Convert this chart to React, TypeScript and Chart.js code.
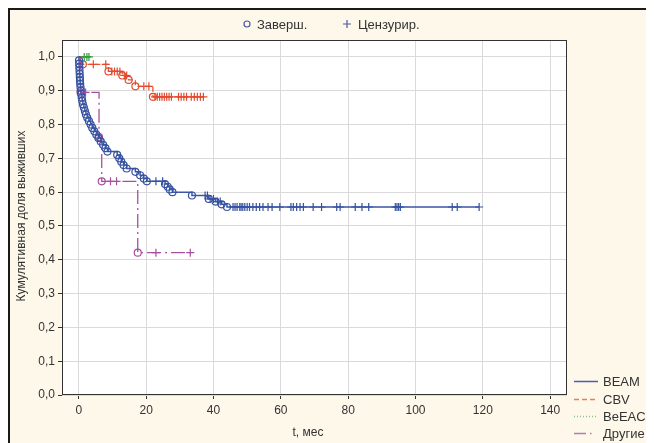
import React, { useEffect, useRef } from 'react';
import { Chart, registerables } from 'chart.js';
Chart.register(...registerables);

// ---- axes ----
const xTicks = [0, 20, 40, 60, 80, 100, 120, 140];
const yTicks = [0, 0.1, 0.2, 0.3, 0.4, 0.5, 0.6, 0.7, 0.8, 0.9, 1.0];
const xMin = -5;
const xMax = 145;
const yMin = 0;
const yMax = 1.05;

// ---- BEAM (event times / survival after event) ----
const beamT = [0, 0.05, 0.1, 0.15, 0.2, 0.25, 0.3, 0.35, 0.4, 0.5, 0.6, 0.7, 0.85, 1.0, 1.2, 1.5, 1.8, 2.1, 2.5, 3.0, 3.5, 4.0, 4.6, 5.2, 5.8, 6.5, 7.2, 7.9, 8.5, 11.4, 12.0, 12.6, 13.3, 14.2, 16.8, 18.2, 19.3, 20.2, 25.6, 26.4, 27.0, 27.8, 33.6, 38.6, 40.6, 42.4, 44.0];
const beamS = [1.0, 0.99, 0.98, 0.97, 0.96, 0.95, 0.94, 0.93, 0.92, 0.91, 0.90, 0.89, 0.88, 0.87, 0.86, 0.85, 0.84, 0.83, 0.82, 0.81, 0.80, 0.79, 0.78, 0.77, 0.76, 0.75, 0.74, 0.73, 0.72, 0.71, 0.70, 0.69, 0.68, 0.67, 0.66, 0.65, 0.64, 0.632, 0.624, 0.616, 0.608, 0.60, 0.59, 0.58, 0.572, 0.564, 0.556];
const beamCens = [22.9, 24.9, 37.5, 38.2, 39.0, 40.0, 41.2, 42.0, 45.8, 46.4, 47.0, 47.8, 48.2, 48.7, 49.3, 50.0, 50.7, 51.7, 52.7, 53.7, 54.7, 56.2, 57.4, 59.7, 63.0, 63.7, 64.7, 65.7, 66.7, 69.6, 72.1, 76.6, 77.6, 82.1, 84.1, 86.1, 94.0, 94.5, 95.0, 95.5, 110.9, 112.4, 118.9];

// ---- CBV ----
const cbvT = [0, 1.2, 8.8, 12.9, 14.8, 16.8, 22.0];
const cbvS = [1.0, 0.978, 0.957, 0.945, 0.932, 0.913, 0.882];
const cbvCens = [4.3, 8.0, 9.8, 10.6, 11.4, 12.2, 13.5, 14.2, 19.3, 20.8, 22.6, 23.3, 24.0, 24.7, 25.4, 26.1, 26.8, 27.5, 29.6, 30.4, 31.2, 32.0, 33.4, 34.3, 35.2, 36.1, 37.0];

// ---- BeEAC ----
const beeacT = [0];
const beeacS = [1.0];
const beeacCens = [1.6, 2.4, 3.0];

// ---- Другие ----
const otherT = [0, 0.5, 6.0, 6.8, 17.5];
const otherS = [1.0, 0.895, 0.763, 0.632, 0.421];
const otherCens = [2.0, 9.4, 11.2, 22.9, 33.1];

const groupNames = ['BEAM', 'CBV', 'BeEAC', 'Другие'];
const legendTop = ['Заверш.', 'Цензурир.'];
const xTitle = 't, мес';
const yTitle = 'Кумулятивная доля выживших';

const FONT = '"Liberation Sans", Arial, sans-serif';
const TEXT = '#333333';

function survAt(ts: number[], ss: number[], t: number) {
  let s = ss[0];
  for (let i = 0; i < ts.length; i++) if (ts[i] <= t) s = ss[i];
  return s;
}

const groups = [
  { name: groupNames[0], t: beamT, s: beamS, c: beamCens, line: '#3d56a6', mark: '#3552a2', dash: [] as number[], lw: 1.5, legendLine: '#4a5fb0' },
  { name: groupNames[1], t: cbvT, s: cbvS, c: cbvCens, line: '#e8553a', mark: '#e24a2e', dash: [5, 3], lw: 1.3, legendLine: '#f07a5e' },
  { name: groupNames[2], t: beeacT, s: beeacS, c: beeacCens, line: '#2f9a3a', mark: '#2f9a3a', dash: [1, 2], lw: 1.3, legendLine: '#8dc08d' },
  { name: groupNames[3], t: otherT, s: otherS, c: otherCens, line: '#a6509e', mark: '#a6509e', dash: [14, 4, 2, 4], lw: 1.3, legendLine: '#b77ab2' },
];

const decor = {
  id: 'decor',
  beforeDraw(chart: any) {
    const { ctx, chartArea: a } = chart;
    ctx.save();
    ctx.fillStyle = '#ffffff';
    ctx.fillRect(a.left, a.top, a.right - a.left, a.bottom - a.top);
    ctx.restore();
  },
  afterDraw(chart: any) {
    const { ctx, chartArea: a } = chart;
    ctx.save();
    // frame
    ctx.strokeStyle = '#333';
    ctx.lineWidth = 1;
    ctx.setLineDash([]);
    ctx.strokeRect(Math.round(a.left) + 0.5, Math.round(a.top) + 0.5, Math.round(a.right - a.left) - 1, Math.round(a.bottom - a.top) - 1);

    ctx.fillStyle = TEXT;
    ctx.font = `12px ${FONT}`;
    // x title
    ctx.textAlign = 'center';
    ctx.textBaseline = 'middle';
    ctx.fillText(xTitle, 298, 423);
    // y title
    ctx.save();
    ctx.translate(12, 206);
    ctx.rotate(-Math.PI / 2);
    ctx.fillText(yTitle, 0, 0);
    ctx.restore();

    // top legend
    const ly = 14;
    ctx.strokeStyle = '#4a5aa8';
    ctx.lineWidth = 1.2;
    ctx.beginPath();
    ctx.arc(237, ly, 3, 0, Math.PI * 2);
    ctx.stroke();
    ctx.textAlign = 'left';
    ctx.fillStyle = TEXT;
    ctx.font = `13px ${FONT}`;
    ctx.fillText(legendTop[0], 247, ly + 1);
    ctx.beginPath();
    ctx.moveTo(333, ly);
    ctx.lineTo(341, ly);
    ctx.moveTo(337, ly - 4);
    ctx.lineTo(337, ly + 4);
    ctx.stroke();
    ctx.fillText(legendTop[1], 348, ly + 1);

    // bottom-right legend
    const ys = [371, 389, 406, 423];
    ctx.font = `13px ${FONT}`;
    groups.forEach((g, i) => {
      ctx.strokeStyle = g.legendLine;
      ctx.lineWidth = 1.5;
      ctx.setLineDash(g.dash.length ? g.dash.map((d) => d) : []);
      if (i === 3) ctx.setLineDash([12, 4, 1.5, 10]);
      ctx.beginPath();
      ctx.moveTo(564, ys[i] + 0.5);
      ctx.lineTo(588, ys[i] + 0.5);
      ctx.stroke();
      ctx.setLineDash([]);
      ctx.fillStyle = TEXT;
      ctx.fillText(g.name, 593, ys[i] + 1);
    });
    ctx.restore();
  },
};

export default function App() {
  const ref = useRef<HTMLCanvasElement>(null);
  useEffect(() => {
    if (!ref.current) return;
    const datasets: any[] = [];
    groups.forEach((g) => {
      const endT = Math.max(g.t[g.t.length - 1], ...g.c);
      const linePts = g.t.map((t, i) => ({ x: t, y: g.s[i] }));
      linePts.push({ x: endT, y: survAt(g.t, g.s, endT) });
      datasets.push({
        type: 'line',
        data: linePts,
        stepped: 'before',
        borderColor: g.line,
        borderWidth: g.lw,
        borderDash: g.dash,
        pointRadius: 0,
        fill: false,
        order: 3,
      });
    });
    groups.forEach((g) => {
      const ev = g.t.slice(1).map((t, i) => ({ x: t, y: g.s[i + 1] }));
      if (ev.length)
        datasets.push({
          type: 'scatter',
          data: ev,
          pointStyle: 'circle',
          pointRadius: 3.5,
          pointBorderWidth: 1.2,
          pointBorderColor: g.mark,
          pointBackgroundColor: 'rgba(0,0,0,0)',
          showLine: false,
          order: 2,
        });
      datasets.push({
        type: 'scatter',
        data: g.c.map((t) => ({ x: t, y: survAt(g.t, g.s, t) })),
        pointStyle: 'cross',
        pointRadius: 4,
        pointBorderWidth: 1.2,
        pointBorderColor: g.mark,
        showLine: false,
        order: 1,
      });
    });

    const chart = new Chart(ref.current, {
      type: 'line',
      data: { datasets },
      options: {
        responsive: false,
        devicePixelRatio: 1,
        animation: false,
        events: [],
        layout: { padding: { top: 30, right: 87, left: 0, bottom: 0 } },
        plugins: { legend: { display: false }, tooltip: { enabled: false } },
        scales: {
          x: {
            type: 'linear',
            min: xMin,
            max: xMax,
            afterBuildTicks: (s: any) => { s.ticks = xTicks.map((v) => ({ value: v })); },
            afterFit: (s: any) => { s.height = 48; },
            grid: { color: '#dadada', lineWidth: 1, tickColor: '#333', tickLength: 4 },
            border: { display: false },
            ticks: {
              color: TEXT,
              font: { family: FONT, size: 12 },
              padding: 4,
              maxRotation: 0,
              autoSkip: false,
              callback: (v: any) => String(v),
            },
          },
          y: {
            type: 'linear',
            min: yMin,
            max: yMax,
            afterBuildTicks: (s: any) => { s.ticks = yTicks.map((v) => ({ value: v })); },
            afterFit: (s: any) => { s.width = 52; },
            grid: { color: '#dadada', lineWidth: 1, tickColor: '#333', tickLength: 4 },
            border: { display: false },
            ticks: {
              color: TEXT,
              font: { family: FONT, size: 12 },
              padding: 3,
              autoSkip: false,
              callback: (v: any) => Number(v).toFixed(1).replace('.', ','),
            },
          },
        },
      },
      plugins: [decor],
    } as any);
    return () => chart.destroy();
  }, []);

  return (
    <div
      style={{
        width: 646,
        height: 435,
        boxSizing: 'border-box',
        borderTop: '2px solid #1a1a1a',
        borderLeft: '2px solid #1a1a1a',
        background: '#fdf8ea',
        overflow: 'hidden',
      }}
    >
      <canvas ref={ref} width={644} height={433} style={{ display: 'block', width: 644, height: 433 }} />
    </div>
  );
}
